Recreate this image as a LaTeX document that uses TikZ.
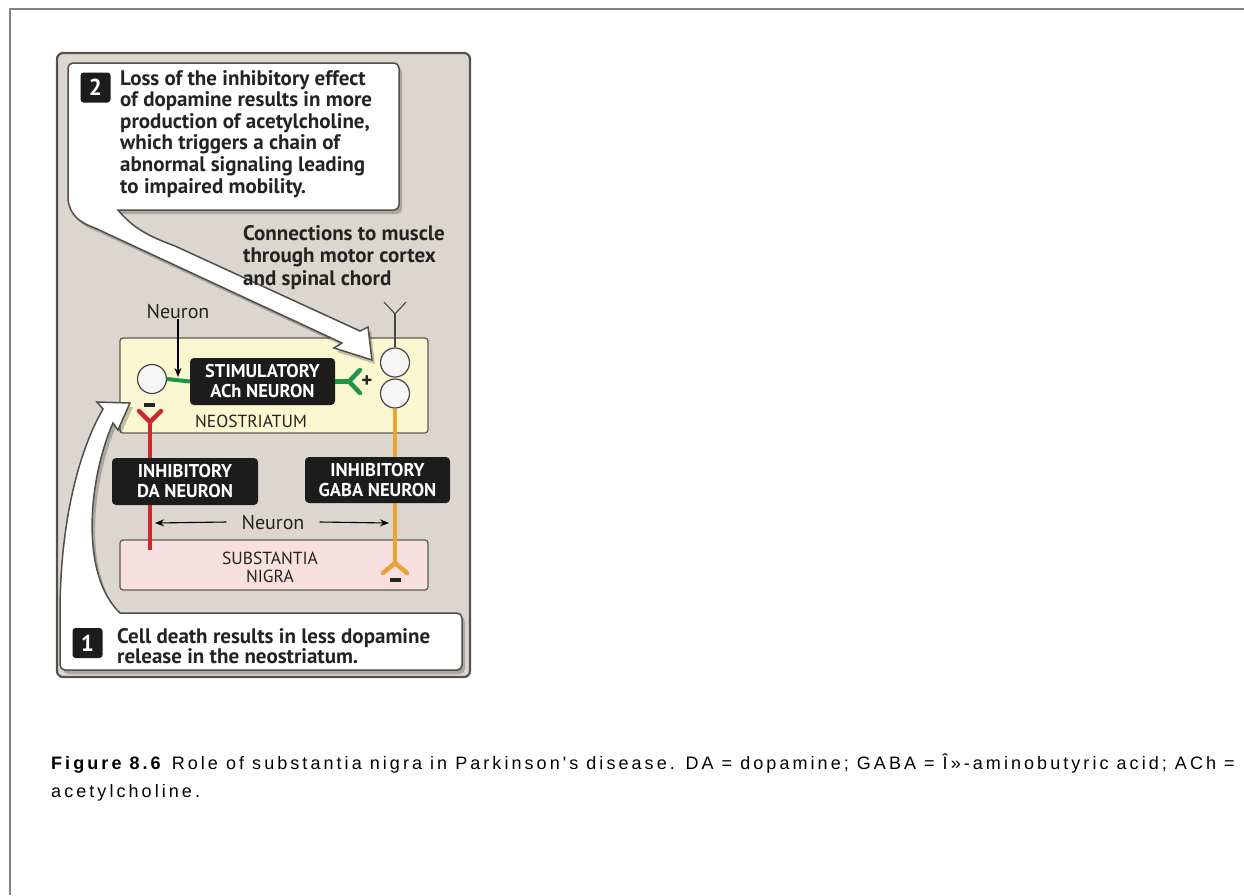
\documentclass[tikz,border=0pt]{standalone}
\usepackage{fontspec}
\setmainfont{PT Sans}
\newfontfamily\capfont[LetterSpace=17]{Liberation Sans}
\usetikzlibrary{arrows.meta}
\definecolor{framegray}{RGB}{130,130,130}
\definecolor{panelfill}{RGB}{219,214,206}
\definecolor{panelborder}{RGB}{85,80,75}
\definecolor{neofill}{RGB}{251,247,208}
\definecolor{boxborder}{RGB}{95,90,80}
\definecolor{snfill}{RGB}{249,224,224}
\definecolor{redn}{RGB}{204,40,45}
\definecolor{orangen}{RGB}{233,164,52}
\definecolor{greenn}{RGB}{30,150,70}
\definecolor{labelblack}{RGB}{28,28,28}
\definecolor{txt}{RGB}{35,35,35}
\definecolor{circfill}{RGB}{246,246,246}
\definecolor{circgray}{RGB}{70,70,70}
\definecolor{calloutborder}{RGB}{80,78,75}
\tikzset{
  lbl/.style={fill=labelblack, text=white, rounded corners=4, font=\bfseries\fontsize{18.5}{20}\selectfont, align=center, inner sep=0},
  cell/.style={circle, draw=circgray, fill=circfill, line width=1.2, minimum size=29, inner sep=0},
  callout/.style={fill=white, draw=calloutborder, line width=1.5, preaction={fill=black, opacity=.22, transform canvas={shift={(3pt,-4pt)}}}},
  numsq/.style={fill=labelblack, text=white, rounded corners=3, minimum size=30, inner sep=0, font=\bfseries\fontsize{23}{23}\selectfont},
  bodytxt/.style={text=txt, inner sep=0, align=left, anchor=north west},
  region/.style={draw=boxborder, line width=1.2, rounded corners=3},
  minusbar/.style={fill=txt, minimum width=11, minimum height=3.5, inner sep=0},
  smallcaps/.style={text=txt, font=\fontsize{17.5}{18}\selectfont, align=center, inner sep=0},
  neurontxt/.style={text=txt, font=\fontsize{20}{22}\selectfont, inner sep=0},
  blackarrow/.style={-{Stealth[length=9,width=7]}, line width=1.1, draw=black},
  axon/.style={line width=4.5},
  fork/.style={line width=1.1, draw=circgray},
  captxt/.style={anchor=base west, inner sep=0, font=\capfont\fontsize{18}{20}\selectfont, text=black}
}
\begin{document}
\begin{tikzpicture}[x=1pt,y=-1pt]
\useasboundingbox (0,0) rectangle (1244,895);
\fill[white] (0,0) rectangle (1244,895);
\draw[framegray, line width=2] (10,895) -- (10,9) -- (1244,9);

% panel
\draw[fill=panelfill, draw=panelborder, line width=2.2, rounded corners=6] (57,53) rectangle (470,677);

% regions
\node[region, fill=neofill, minimum width=308, minimum height=95] (neo) at (274,385.5) {};
\node[region, fill=snfill, minimum width=308, minimum height=50] (sn) at (274,565) {};
\node[smallcaps] (neolab) at (251,421) {NEOSTRIATUM};
\node[smallcaps] (snlab) at (270,567) {SUBSTANTIA\\NIGRA};

% callout 2
\path[callout] [rounded corners=5] (68,200) -- (68,63) -- (399,63) -- (399,210) [sharp corners] -- (118,210)
  .. controls (133,228) and (148,236) .. (175,246) -- (360,331) -- (368,327) -- (372,360) -- (334,348) -- (342,343)
  -- (95,228) .. controls (78,222) and (70,214) .. (68,200) -- cycle;
\node[numsq] (sq2) at (95.5,87.5) {2};
\node[bodytxt, font=\bfseries\fontsize{21}{21.6}\selectfont] (t2) at (120,70)
  {Loss of the inhibitory effect\\of dopamine results in more\\production of acetylcholine,\\which triggers a chain of\\abnormal signaling leading\\to impaired mobility.};

% callout 1
\path[callout] [rounded corners=5] (120,613) -- (462,613) -- (462,670) -- (60,670) [sharp corners] -- (60,613)
  .. controls (60,525) and (78,452) .. (103,409) -- (97,402) -- (130,403) -- (118,430) -- (113,423)
  .. controls (88,480) and (80,575) .. (120,613) -- cycle;
\node[numsq] (sq1) at (87.5,643) {1};
\node[bodytxt, font=\bfseries\fontsize{21}{20.5}\selectfont] (t1) at (117,628)
  {Cell death results in less dopamine\\release in the neostriatum.};

% connections text
\node[bodytxt, font=\bfseries\fontsize{21}{22.5}\selectfont] (conn) at (243,225)
  {Connections to muscle\\through motor cortex\\ and spinal chord};

% cells
\node[cell] (cL) at (152,379) {};
\node[cell] (cR1) at (395,362.5) {};
\node[cell] (cR2) at (395,393.5) {};

% fork above right cells
\coordinate (yJ) at (395,314);
\draw[fork] (cR1.north) -- (yJ);
\draw[fork] (384,302) -- (yJ) -- (406,302);

% orange GABA axon
\coordinate (oJ) at (395,563);
\draw[orangen, axon] (cR2.south) -- (oJ);
\draw[orangen, line width=4.5, line cap=round] (383,573) -- (oJ) -- (407,573);
\node[minusbar] (minR) at (395,580) {};

% red DA axon
\coordinate (rJ) at (150,422);
\coordinate (rB) at (150,550);
\draw[redn, axon] (rB) -- (rJ);
\draw[redn, line width=4.5, line cap=round] (139,411) -- (rJ) -- (161,411);
\node[minusbar] (minL) at (149,405) {};

% labels
\node[lbl, minimum width=145, minimum height=47] (stim) at (262.5,381.5) {STIMULATORY\\ACh NEURON};
\node[lbl, minimum width=146, minimum height=47] (da) at (185,481.5) {INHIBITORY\\DA NEURON};
\node[lbl, minimum width=145, minimum height=46] (gaba) at (377.5,480) {INHIBITORY\\GABA NEURON};

% green ACh connections
\draw[greenn, line width=4] (cL.east) -- (stim.west);
\coordinate (gJ) at (349,381.5);
\draw[greenn, line width=4.5] (stim.east) -- (gJ);
\draw[greenn, line width=4.5, line cap=round] (360,370) -- (gJ) -- (360,393);
\node[text=txt, font=\bfseries\fontsize{21}{21}\selectfont, inner sep=0] (plus) at (367,382) {+};

% top neuron label with arrow
\node[neurontxt] (ntop) at (178,312) {Neuron};
\coordinate (gT) at (178,377);
\draw[blackarrow] (ntop.south) -- (gT);

% bottom neuron label with arrows
\node[neurontxt, inner xsep=15] (nbot) at (273,522) {Neuron};
\coordinate (aL) at (155,523);
\coordinate (aR) at (389,523);
\draw[blackarrow] (nbot.west) -- (aL);
\draw[blackarrow] (nbot.east) -- (aR);

% caption
\node[captxt] (cap1) at (51,769)
  {\textbf{Figure 8.6} Role of substantia nigra in Parkinson's disease. DA = dopamine; GABA = Î»-aminobutyric acid; ACh =};
\node[captxt] (cap2) at (51,797) {acetylcholine.};
\end{tikzpicture}
\end{document}
